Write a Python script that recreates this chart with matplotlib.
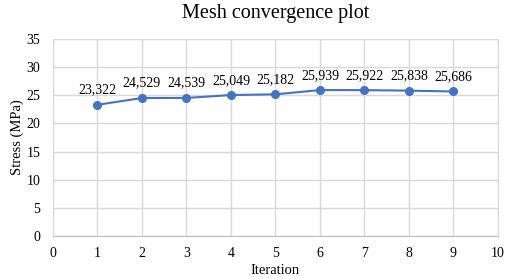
import matplotlib.pyplot as plt

iterations = [1, 2, 3, 4, 5, 6, 7, 8, 9]
stress = [23.322, 24.529, 24.539, 25.049, 25.182, 25.939, 25.922, 25.838, 25.686]

plt.rcParams["font.family"] = ["Liberation Serif", "DejaVu Serif"]

fig = plt.figure(figsize=(5.12, 2.79), dpi=100)
ax = fig.add_axes([0.1035, 0.154, 0.869, 0.706])

ax.plot(iterations, stress, color="#4472C4", marker="o", markersize=5.5, linewidth=1.5, zorder=3)
for x, y in zip(iterations, stress):
    ax.annotate(f"{y:.3f}".replace(".", ","), (x, y), xytext=(0, 6), textcoords="offset points",
                ha="center", va="bottom", fontsize=10)

ax.set_xlim(0, 10)
ax.set_ylim(0, 35)
ax.set_xticks(range(0, 11))
ax.set_yticks(range(0, 36, 5))
ax.grid(True, color="#d9d9d9", linewidth=1)
ax.set_axisbelow(True)
for side in ["top", "right", "left"]:
    ax.spines[side].set_color("#d9d9d9")
ax.spines["bottom"].set_color("#bfbfbf")
ax.tick_params(length=0, labelsize=10, pad=8)
ax.tick_params(axis="y", pad=9)

ax.set_title("Mesh convergence plot", fontsize=14.5, pad=15)
ax.set_xlabel("Iteration", fontsize=10.5, labelpad=3)
ax.set_ylabel("Stress (MPa)", fontsize=10.5, labelpad=2)

fig.savefig("out.png", dpi=100)
